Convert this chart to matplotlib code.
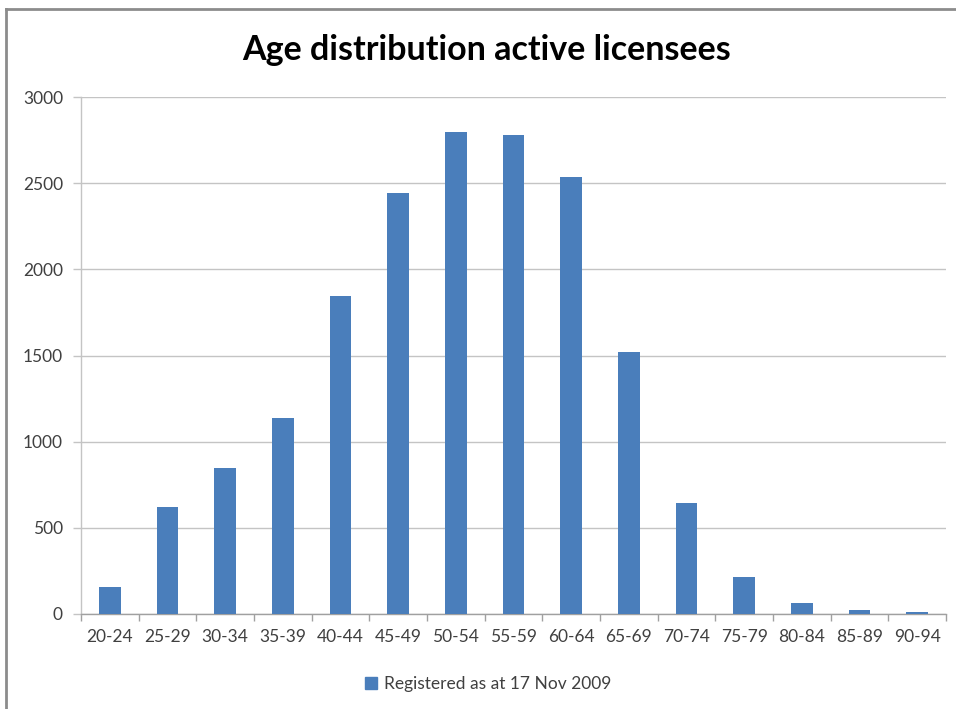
import matplotlib
matplotlib.use("Agg")
import matplotlib.pyplot as plt
from matplotlib.patches import Rectangle
from matplotlib.lines import Line2D
import numpy as np

age_groups = ["20-24", "25-29", "30-34", "35-39", "40-44", "45-49", "50-54",
              "55-59", "60-64", "65-69", "70-74", "75-79", "80-84", "85-89", "90-94"]
licensees = [157, 620, 845, 1135, 1845, 2445, 2797,
             2778, 2535, 1523, 645, 217, 64, 21, 9]
y_ticks = [0, 500, 1000, 1500, 2000, 2500, 3000]

title = "Age distribution active licensees"
series_label = "Registered as at 17 Nov 2009"

bar_color = "#4a7ebb"
grid_color = "#c4c4c4"
text_color = "#404040"

plt.rcParams["font.family"] = ["Lato", "DejaVu Sans"]

fig = plt.figure(figsize=(9.56, 7.09), dpi=100)
W, H = 956, 709
ax = fig.add_axes([81 / W, 1 - 614 / H, (946 - 81) / W, (614 - 97) / H])

x = np.arange(len(age_groups))
ax.bar(x, licensees, width=0.38, color=bar_color, zorder=3)

ax.set_xlim(-0.5, len(age_groups) - 0.5)
ax.set_ylim(0, 3000)
ax.set_yticks(y_ticks)
ax.set_yticklabels([str(v) for v in y_ticks], fontsize=12.5, color=text_color)

# category labels centred, tick marks on category boundaries
ax.set_xticks(x)
ax.set_xticklabels(age_groups, fontsize=12.5, color=text_color)
ax.tick_params(axis="x", length=0, pad=11)
ax.set_xticks(np.arange(len(age_groups) + 1) - 0.5, minor=True)
ax.tick_params(axis="x", which="minor", length=5, color="#a0a0a0", width=1)
ax.tick_params(axis="y", length=6, color=grid_color, width=1, pad=7)

ax.grid(axis="y", color=grid_color, linewidth=1, zorder=0)
for side in ["top", "right"]:
    ax.spines[side].set_visible(False)
ax.spines["left"].set_color(grid_color)
ax.spines["bottom"].set_color("#a0a0a0")
ax.spines["left"].set_linewidth(1)
ax.spines["bottom"].set_linewidth(1)

fig.text(487 / W, 1 - 50 / H, title, ha="center", va="center",
         fontsize=24.5, fontweight="bold", color="black")

handle = Rectangle((0, 0), 1, 1, color=bar_color)
fig.legend([handle], [series_label], loc="center", bbox_to_anchor=(488 / W, 1 - 684 / H),
           frameon=False, fontsize=12.5, handlelength=0.7, handleheight=0.7,
           handletextpad=0.4, labelcolor=text_color)

# chart frame
fig.add_artist(Line2D([6 / W, 6 / W], [0, 1 - 9 / H], transform=fig.transFigure,
                      color="#8c8c8c", linewidth=2))
fig.add_artist(Line2D([6 / W, 1], [1 - 9 / H, 1 - 9 / H], transform=fig.transFigure,
                      color="#8c8c8c", linewidth=2))

fig.savefig("out.png", dpi=100)
